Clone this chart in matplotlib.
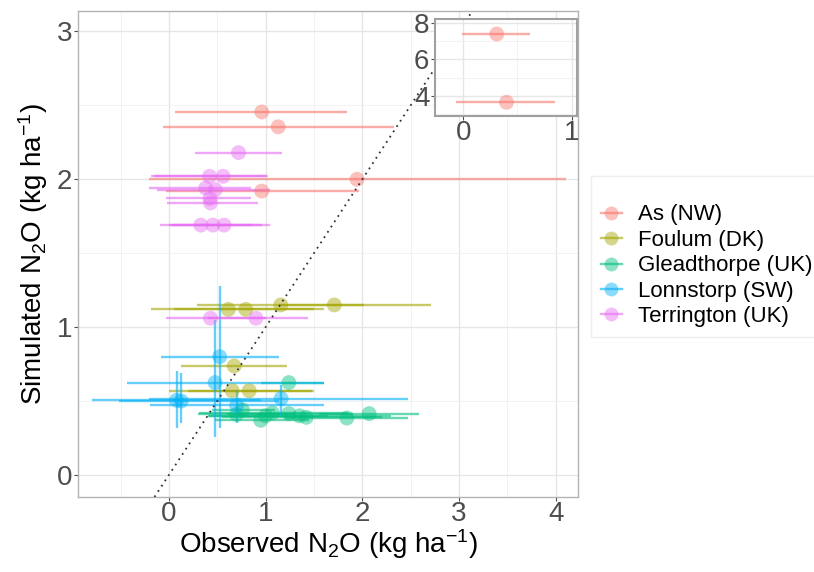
import numpy as np
import matplotlib.pyplot as plt
from matplotlib.lines import Line2D
from matplotlib.colors import to_rgba

plt.rcParams['font.family'] = ['Liberation Sans', 'DejaVu Sans']
plt.rcParams['mathtext.fontset'] = 'custom'
plt.rcParams['mathtext.rm'] = 'Liberation Sans'
plt.rcParams['mathtext.it'] = 'Liberation Sans:italic'
plt.rcParams['mathtext.bf'] = 'Liberation Sans:bold'

sites = ['As (NW)', 'Foulum (DK)', 'Gleadthorpe (UK)', 'Lonnstorp (SW)', 'Terrington (UK)']
colours = ['#F8766D', '#A3A500', '#00BF7D', '#00B0F6', '#E76BF3']

# observed, simulated, observed low / high (horizontal error bars)
as_obs = [0.96, 1.13, 1.945, 0.96, 0.31, 0.40]
as_sim = [2.455, 2.355, 2.00, 1.92, 7.38, 3.65]
as_lo = [0.06, -0.06, -0.21, -0.03, -0.01, -0.065]
as_hi = [1.84, 2.33, 4.11, 1.97, 0.62, 0.85]

fo_obs = [0.615, 0.795, 1.157, 1.71, 0.675, 0.655, 0.83]
fo_sim = [1.12, 1.12, 1.15, 1.15, 0.737, 0.57, 0.57]
fo_lo = [-0.19, 0.05, 0.29, 1.14, 0.12, 0.0, 0.20]
fo_hi = [1.60, 1.50, 2.02, 2.71, 1.22, 1.50, 1.48]

gl_obs = [1.24, 2.07, 1.84, 1.35, 1.42, 0.95, 1.07, 0.76, 0.70, 1.24, 1.00]
gl_sim = [0.625, 0.415, 0.385, 0.40, 0.39, 0.37, 0.42, 0.44, 0.41, 0.415, 0.40]
gl_lo = [0.95, 1.55, 1.20, 0.40, 0.55, 0.48, 0.31, 0.45, 0.30, 0.60, 0.41]
gl_hi = [1.60, 2.59, 2.47, 2.30, 2.20, 1.45, 1.85, 1.10, 1.30, 1.90, 1.65]

lo_obs = [0.525, 0.477, 0.08, 0.127, 1.16, 0.70]
lo_sim = [0.80, 0.625, 0.505, 0.50, 0.517, 0.47]
lo_lo = [-0.08, -0.43, -0.795, -0.52, -0.21, -0.20]
lo_hi = [1.14, 1.60, 0.95, 1.14, 2.47, 1.60]
lo_slo = [0.32, 0.26, 0.316, 0.35, 0.405, 0.35]
lo_shi = [1.28, 1.05, 0.70, 0.69, 0.61, 0.575]

te_obs = [0.72, 0.42, 0.56, 0.38, 0.48, 0.425, 0.43, 0.33, 0.455, 0.57, 0.43, 0.90]
te_sim = [2.18, 2.02, 2.02, 1.94, 1.93, 1.87, 1.84, 1.69, 1.69, 1.69, 1.06, 1.06]
te_lo = [0.27, -0.155, -0.19, -0.21, -0.12, -0.03, -0.02, -0.09, 0.0, 0.03, -0.03, 0.40]
te_hi = [1.17, 1.02, 1.00, 0.85, 1.05, 0.85, 0.92, 0.86, 1.05, 0.96, 1.00, 1.44]

site_data = [
    (as_obs, as_sim, as_lo, as_hi, None, None),
    (fo_obs, fo_sim, fo_lo, fo_hi, None, None),
    (gl_obs, gl_sim, gl_lo, gl_hi, None, None),
    (lo_obs, lo_sim, lo_lo, lo_hi, lo_slo, lo_shi),
    (te_obs, te_sim, te_lo, te_hi, None, None),
]


def style_axes(ax):
    ax.set_facecolor('white')
    ax.set_axisbelow(True)
    ax.grid(which='major', color='#E6E6E6', lw=1.0)
    ax.grid(which='minor', color='#F0F0F0', lw=0.6)
    for sp in ax.spines.values():
        sp.set_color('#B3B3B3')
        sp.set_linewidth(1.0)
    ax.tick_params(which='major', labelsize=20, labelcolor='#4D4D4D',
                   color='#4D4D4D', length=3, width=0.8, pad=1)
    ax.tick_params(axis='x', which='major', pad=0)
    ax.tick_params(which='minor', length=0)


def draw_sites(ax):
    for (obs, sim, lo, hi, slo, shi), col in zip(site_data, colours):
        ax.hlines(sim, lo, hi, color=col, alpha=0.6, lw=1.7, zorder=2)
        if slo is not None:
            ax.vlines(obs, slo, shi, color=col, alpha=0.6, lw=1.7, zorder=2)
    for (obs, sim, lo, hi, slo, shi), col in zip(site_data, colours):
        ax.scatter(obs, sim, s=115, color=col, alpha=0.45, edgecolors='none', zorder=3)


fig = plt.figure(figsize=(8.14, 5.72), dpi=100)

# main panel
ax = fig.add_axes([0.0958, 0.1311, 0.6143, 0.8502])
draw_sites(ax)
ax.axline((0, 0), slope=1, color='#333333', lw=1.3, linestyle=(0, (1, 2.5)), zorder=4)
ax.set_xlim(-0.94, 4.23)
ax.set_ylim(-0.149, 3.14)
ax.set_xticks([0, 1, 2, 3, 4])
ax.set_xticks([-0.5, 0.5, 1.5, 2.5, 3.5], minor=True)
ax.set_yticks([0, 1, 2, 3])
ax.set_yticks([0.5, 1.5, 2.5], minor=True)
style_axes(ax)

fig.text(0.403, 0.033, r'Observed N$_2$O (kg ha$^{-1}$)', fontsize=20,
         ha='center', va='baseline')
fig.text(0.051, 0.556, r'Simulated N$_2$O (kg ha$^{-1}$)', fontsize=20,
         ha='center', va='baseline', rotation=90, rotation_mode='anchor')

# inset for the two high As values
axi = fig.add_axes([0.5344, 0.7972, 0.1744, 0.1696])
axi.set_zorder(5)
draw_sites(axi)
axi.set_xlim(-0.26, 1.05)
axi.set_ylim(2.9, 8.2)
axi.set_xticks([0, 1])
axi.set_xticks([0.5], minor=True)
axi.set_yticks([4, 6, 8])
axi.set_yticks([3, 5, 7], minor=True)
style_axes(axi)
for sp in axi.spines.values():
    sp.set_color('#A0A0A0')
    sp.set_linewidth(1.5)

# legend
handles = []
for col in colours:
    handles.append(Line2D([], [], color=to_rgba(col, 0.6), lw=1.7, marker='o',
                          markersize=10, markerfacecolor=to_rgba(col, 0.45),
                          markeredgecolor='none'))
leg = fig.legend(handles, sites, loc='upper left', bbox_to_anchor=(0.726, 0.692),
                 fontsize=16, title=' ', title_fontsize=10, handlelength=0.95,
                 handletextpad=0.73, borderpad=0.44, labelspacing=0.2,
                 fancybox=False, edgecolor='#EEEEEE', framealpha=1,
                 borderaxespad=0)
leg.get_frame().set_linewidth(1.0)

fig.savefig('out.png', dpi=100)
